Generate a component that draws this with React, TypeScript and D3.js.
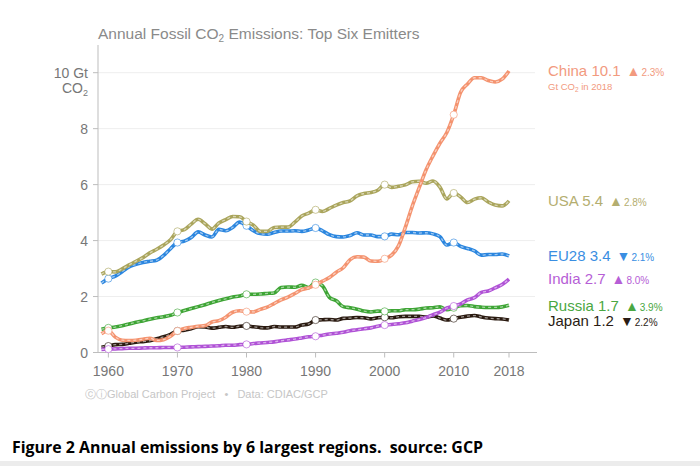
import React from "react";
import * as d3 from "d3";

const years = d3.range(1959, 2019);

const china = [
  0.67, 0.78, 0.55, 0.44, 0.43, 0.44, 0.47, 0.51, 0.43, 0.46,
  0.58, 0.77, 0.86, 0.9, 0.94, 0.96, 1.09, 1.14, 1.26, 1.44,
  1.49, 1.46, 1.45, 1.54, 1.62, 1.75, 1.88, 1.98, 2.11, 2.25,
  2.31, 2.42, 2.55, 2.68, 2.87, 3.03, 3.32, 3.42, 3.41, 3.27,
  3.26, 3.35, 3.48, 3.81, 4.48, 5.23, 5.89, 6.53, 7.03, 7.48,
  7.86, 8.5, 9.3, 9.6, 9.82, 9.82, 9.72, 9.67, 9.77, 10.06,
];
const usa = [
  2.8, 2.89, 2.88, 2.99, 3.13, 3.26, 3.39, 3.56, 3.69, 3.84,
  4.03, 4.33, 4.39, 4.59, 4.76, 4.6, 4.41, 4.63, 4.75, 4.86,
  4.85, 4.68, 4.55, 4.33, 4.33, 4.47, 4.48, 4.48, 4.66, 4.88,
  4.98, 5.1, 5.04, 5.15, 5.27, 5.36, 5.42, 5.6, 5.68, 5.72,
  5.8, 6.0, 5.9, 5.94, 5.99, 6.1, 6.12, 6.05, 6.13, 5.91,
  5.49, 5.7, 5.56, 5.36, 5.48, 5.53, 5.38, 5.27, 5.24, 5.42,
];
const eu28 = [
  2.48, 2.64, 2.73, 2.89, 3.06, 3.15, 3.22, 3.26, 3.3, 3.47,
  3.71, 3.93, 3.98, 4.11, 4.31, 4.2, 4.13, 4.4, 4.35, 4.47,
  4.66, 4.53, 4.35, 4.25, 4.23, 4.29, 4.34, 4.34, 4.35, 4.33,
  4.38, 4.45, 4.35, 4.21, 4.14, 4.13, 4.18, 4.28, 4.2, 4.2,
  4.14, 4.15, 4.23, 4.21, 4.29, 4.29, 4.27, 4.28, 4.24, 4.14,
  3.84, 3.93, 3.79, 3.72, 3.63, 3.48, 3.5, 3.5, 3.52, 3.45,
];
const india = [
  0.11, 0.12, 0.13, 0.14, 0.15, 0.15, 0.16, 0.17, 0.17, 0.18,
  0.18, 0.18, 0.19, 0.2, 0.21, 0.22, 0.23, 0.24, 0.26, 0.26,
  0.28, 0.29, 0.32, 0.34, 0.36, 0.38, 0.42, 0.45, 0.48, 0.52,
  0.56, 0.58, 0.62, 0.66, 0.69, 0.72, 0.78, 0.81, 0.85, 0.88,
  0.94, 0.98, 1.0, 1.03, 1.06, 1.12, 1.18, 1.25, 1.35, 1.44,
  1.59, 1.66, 1.74, 1.88, 1.96, 2.15, 2.2, 2.31, 2.43, 2.62,
];
const russia = [
  0.83, 0.88, 0.91, 0.96, 1.02, 1.08, 1.13, 1.19, 1.24, 1.28,
  1.33, 1.43, 1.5, 1.57, 1.64, 1.71, 1.79, 1.86, 1.92, 1.98,
  2.02, 2.08, 2.08, 2.09, 2.11, 2.13, 2.32, 2.34, 2.33, 2.4,
  2.32, 2.5, 2.38, 1.97, 1.85, 1.64, 1.6, 1.55, 1.48, 1.45,
  1.48, 1.47, 1.49, 1.49, 1.53, 1.53, 1.55, 1.59, 1.6, 1.63,
  1.53, 1.6, 1.67, 1.68, 1.64, 1.62, 1.61, 1.61, 1.63, 1.69,
];
const japan = [
  0.19, 0.23, 0.28, 0.29, 0.33, 0.37, 0.39, 0.42, 0.49, 0.56,
  0.65, 0.77, 0.8, 0.85, 0.92, 0.91, 0.87, 0.9, 0.93, 0.9,
  0.94, 0.95, 0.92, 0.89, 0.88, 0.93, 0.91, 0.91, 0.91, 0.98,
  1.02, 1.16, 1.17, 1.18, 1.16, 1.22, 1.23, 1.25, 1.24, 1.2,
  1.24, 1.26, 1.24, 1.28, 1.29, 1.29, 1.29, 1.27, 1.31, 1.23,
  1.16, 1.21, 1.26, 1.3, 1.32, 1.27, 1.23, 1.21, 1.2, 1.16,
];

const seriesNames = ["China", "USA", "EU28", "India", "Russia", "Japan"];
const seriesValues = [china, usa, eu28, india, russia, japan];
const seriesLabels = ["10.1", "5.4", "3.4", "2.7", "1.7", "1.2"];
const seriesChange = ["2.3%", "2.8%", "2.1%", "8.0%", "3.9%", "2.2%"];
const seriesUp = [true, true, false, true, true, false];
const lineColors = ["#f4936f", "#aaa55c", "#2b86df", "#b052d6", "#3ea535", "#2a1a10"];
const labelColors = ["#f29a7e", "#b4ae70", "#3a8ee2", "#b65ed6", "#4aa742", "#2a1c14"];

const yTicks = [0, 2, 4, 6, 8, 10];
const xTicks = [1960, 1970, 1980, 1990, 2000, 2010, 2018];
const markerYears = [1960, 1970, 1980, 1990, 2000, 2010];

const FONT = "'Liberation Sans', Arial, Helvetica, sans-serif";

export default function App() {
  const W = 700;
  const H = 466;
  const x = d3.scaleLinear().domain([1958.5, 2018]).range([98, 509]);
  const y = d3.scaleLinear().domain([0, 10]).range([352.5, 72.7]);
  const line = d3
    .line<number>()
    .x((_, i) => x(years[i]))
    .y((d) => y(d))
    .curve(d3.curveMonotoneX);

  return (
    <svg
      width={W}
      height={H}
      style={{ position: "absolute", left: 0, top: 0, background: "#fff" }}
      fontFamily={FONT}
    >
      <rect x={0} y={0} width={W} height={H} fill="#fff" />
      <rect x={0} y={461} width={W} height={5} fill="#ececec" />

      {/* title */}
      <text x={98} y={38.5} fontSize={15.5} fill="#8a8a8a">
        Annual Fossil CO
        <tspan fontSize={10} dy={3}>2</tspan>
        <tspan dy={-3}> Emissions: Top Six Emitters</tspan>
      </text>

      {/* gridlines */}
      {yTicks
        .filter((t) => t > 0)
        .map((t) => (
          <line key={"g" + t} x1={98} x2={535} y1={y(t)} y2={y(t)} stroke="#eeeeee" strokeWidth={1} />
        ))}

      {/* axes */}
      <line x1={98} x2={98} y1={45} y2={352.5} stroke="#bdbdbd" strokeWidth={1} />
      <line x1={98} x2={537} y1={352.5} y2={352.5} stroke="#bdbdbd" strokeWidth={1} />
      {yTicks.map((t) => (
        <line key={"yt" + t} x1={93} x2={98} y1={y(t)} y2={y(t)} stroke="#bdbdbd" />
      ))}
      {xTicks.map((t) => (
        <line key={"xt" + t} x1={x(t)} x2={x(t)} y1={352.5} y2={357.5} stroke="#bdbdbd" />
      ))}

      {/* y tick labels */}
      {yTicks.map((t) =>
        t === 10 ? (
          <g key={"yl" + t}>
            <text x={88} y={y(t) + 5} fontSize={14} fill="#777" textAnchor="end">
              10 Gt
            </text>
            <text x={88} y={y(t) + 20} fontSize={14} fill="#777" textAnchor="end">
              CO<tspan fontSize={9} dy={3}>2</tspan>
            </text>
          </g>
        ) : (
          <text key={"yl" + t} x={88} y={y(t) + 5} fontSize={14} fill="#777" textAnchor="end">
            {t}
          </text>
        )
      )}

      {/* x tick labels */}
      {xTicks.map((t) => (
        <text key={"xl" + t} x={x(t)} y={375.5} fontSize={14} fill="#777" textAnchor="middle">
          {t}
        </text>
      ))}

      {/* series lines (drawn back to front) */}
      {seriesValues
        .map((vals, i) => ({ vals, i }))
        .reverse()
        .map(({ vals, i }) => (
          <g key={"s" + i}>
            <path d={line(vals) || ""} fill="none" stroke={lineColors[i]} strokeWidth={3.6} strokeLinejoin="round" />
            <path
              d={line(vals) || ""}
              fill="none"
              stroke="#ffffff"
              strokeOpacity={0.55}
              strokeWidth={1.3}
              strokeDasharray="3 3"
            />
            {markerYears.map((yr) => (
              <circle
                key={yr}
                cx={x(yr)}
                cy={y(vals[years.indexOf(yr)])}
                r={3.6}
                fill="#fff"
                stroke={lineColors[i]}
                strokeOpacity={0.6}
                strokeWidth={1}
              />
            ))}
          </g>
        ))}

      {/* end labels */}
      {seriesNames.map((name, i) => {
        const last = seriesValues[i][seriesValues[i].length - 1];
        return (
          <text key={"lab" + i} x={548} y={y(last) + (name === "Japan" ? 6 : 5.3)} fill={labelColors[i]}>
            <tspan fontSize={15}>
              {name} {seriesLabels[i]}
            </tspan>
            <tspan fontSize={14} dx={6}>
              {seriesUp[i] ? "▲" : "▼"}
            </tspan>
            <tspan fontSize={10} dx={1}>
              {seriesChange[i]}
            </tspan>
          </text>
        );
      })}
      <text x={548} y={y(china[china.length - 1]) + 18.5} fontSize={9.5} fill="#f29a7e">
        Gt CO<tspan fontSize={6.5} dy={2}>2</tspan>
        <tspan dy={-2}> in 2018</tspan>
      </text>

      {/* footer */}
      <text x={85} y={397.5} fontSize={11} fill="#c6c6c6" style={{ whiteSpace: "pre" }}>
        {"ⓒⓘGlobal Carbon Project   •   Data: CDIAC/GCP"}
      </text>

      {/* caption */}
      <text
        x={12}
        y={453}
        fontSize={16}
        fontWeight="bold"
        fill="#000"
        fontFamily="'Open Sans', sans-serif"
        textLength={471}
        lengthAdjust="spacingAndGlyphs"
        style={{ whiteSpace: "pre" }}
      >
        {"Figure 2 Annual emissions by 6 largest regions.  source: GCP"}
      </text>
    </svg>
  );
}
